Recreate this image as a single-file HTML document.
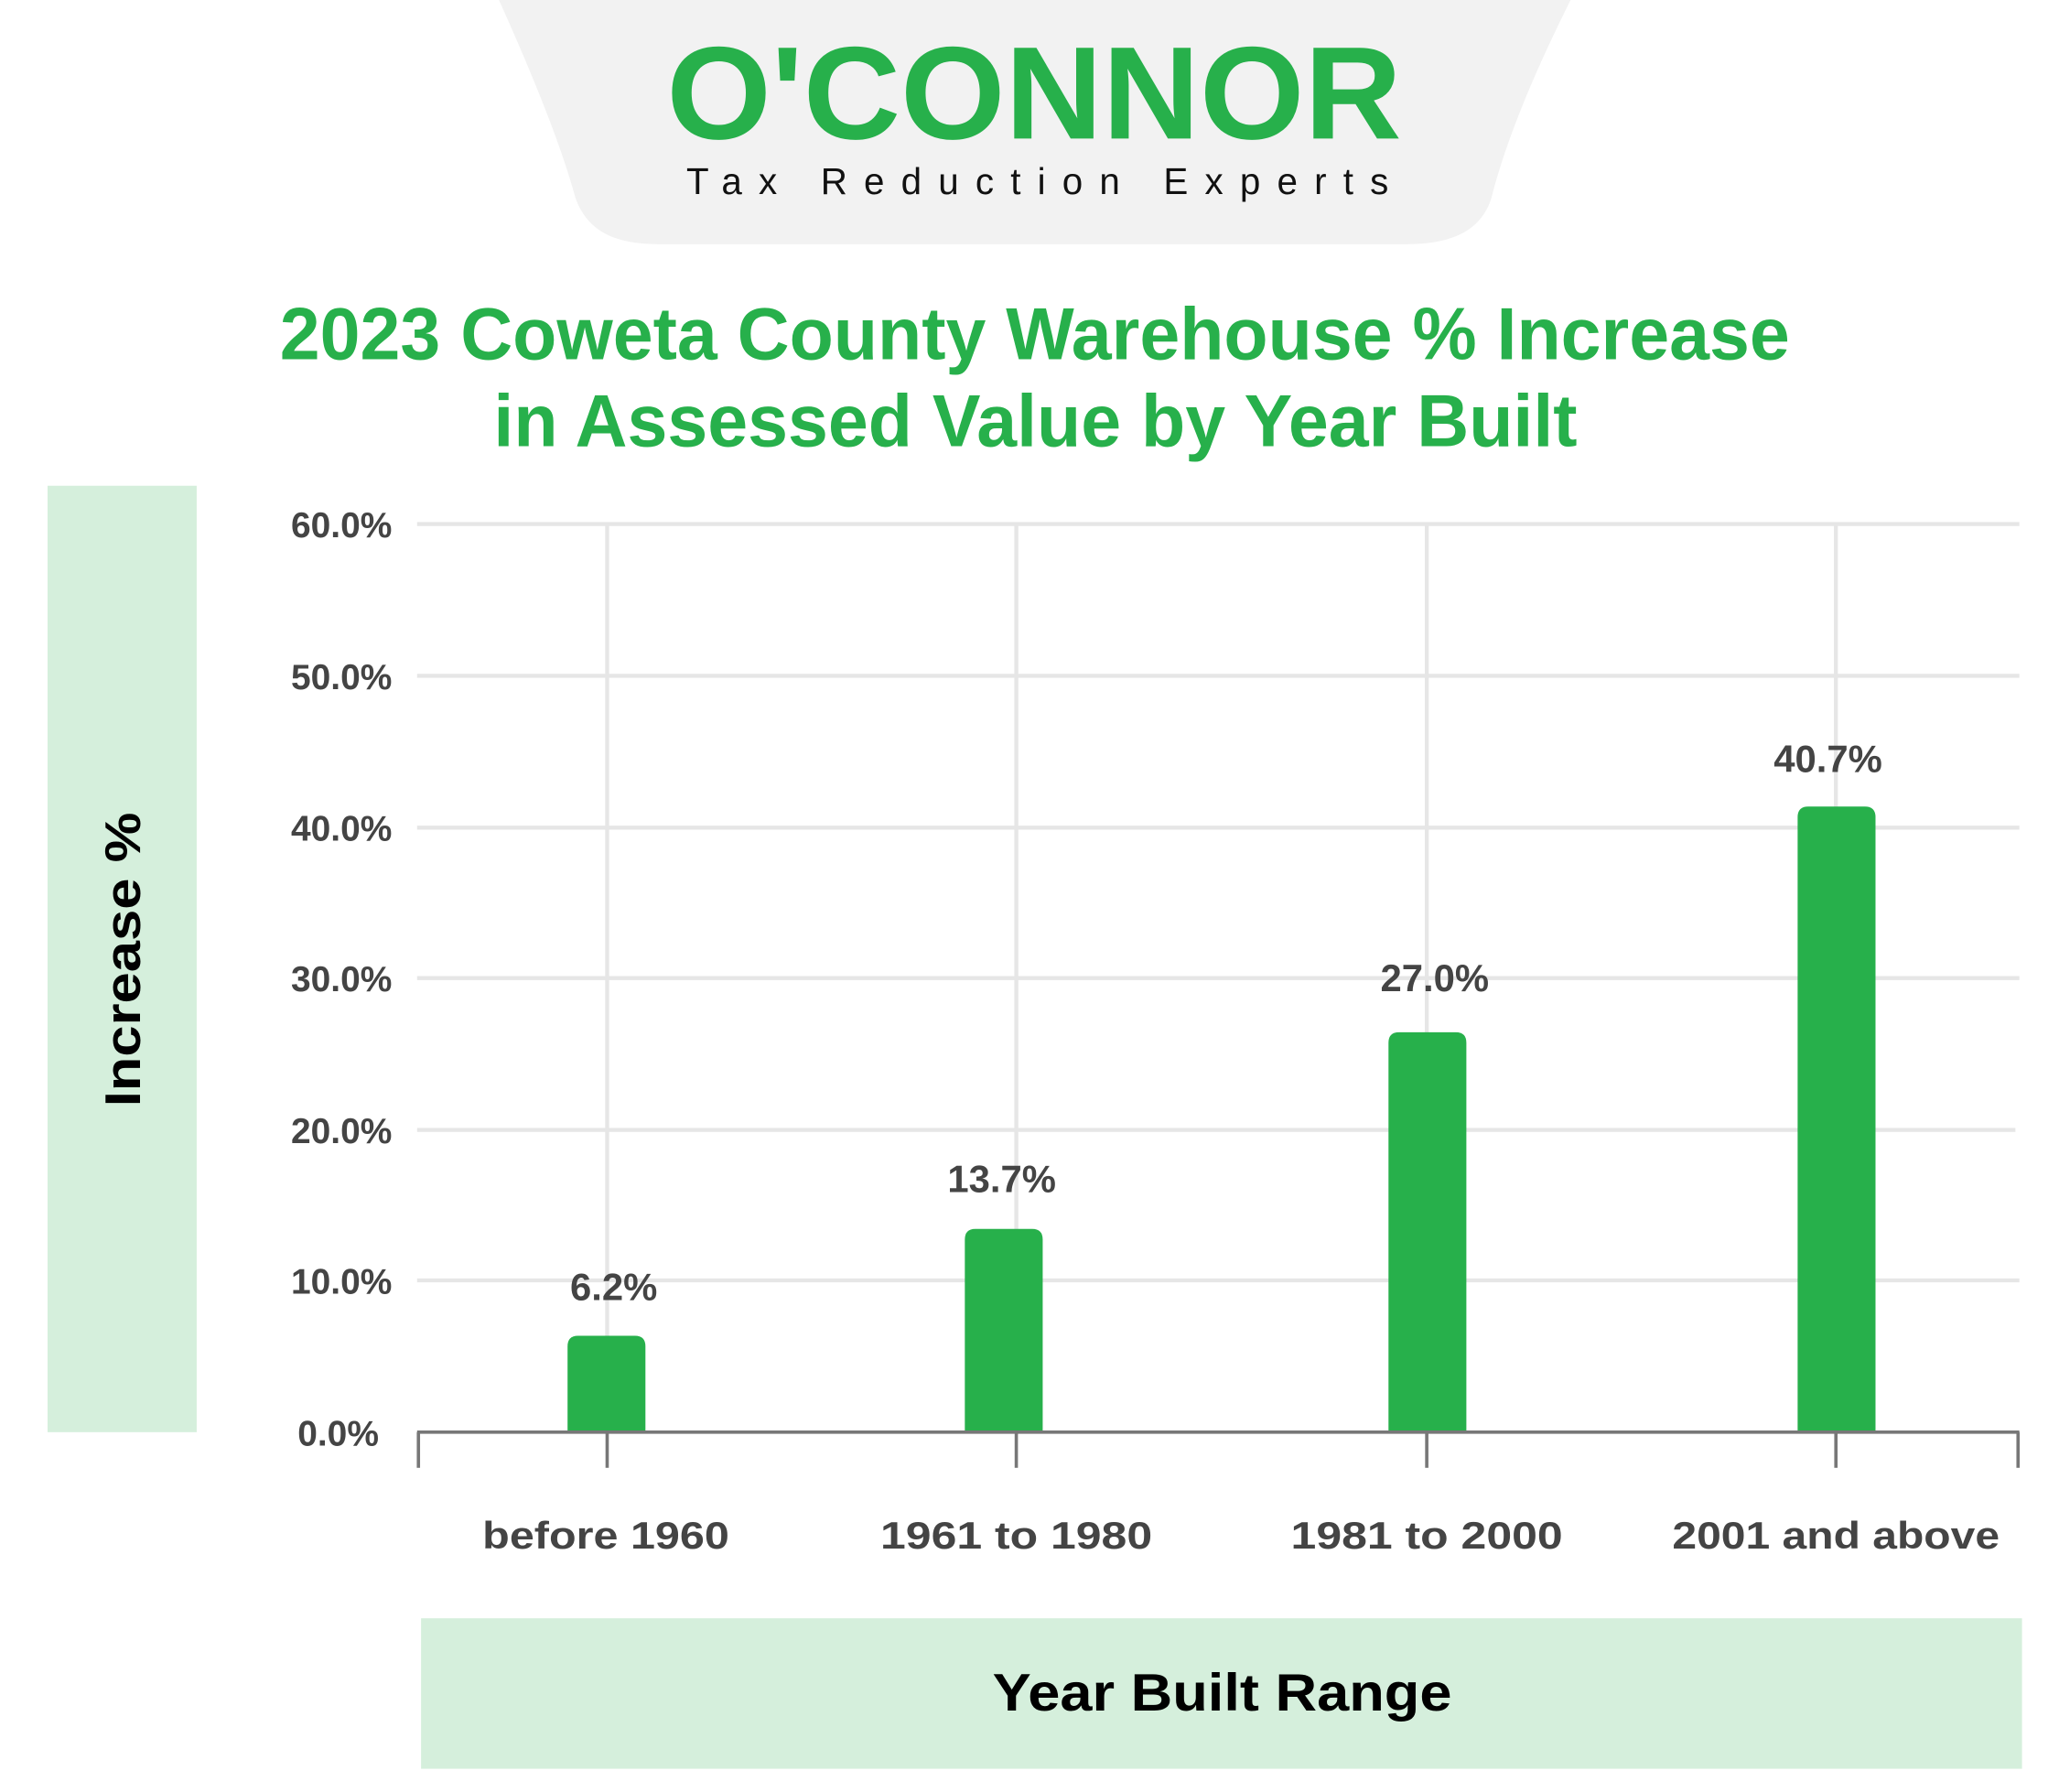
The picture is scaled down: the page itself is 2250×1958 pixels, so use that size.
<!DOCTYPE html>
<html><head><meta charset="utf-8"><style>
html,body{margin:0;padding:0;background:#fff;}
svg{display:block;}
text{font-family:"Liberation Sans",sans-serif;}
</style></head><body>
<svg width="2250" height="1958" viewBox="0 0 1560 1357.6" xmlns="http://www.w3.org/2000/svg">
<rect width="1560" height="1357.6" fill="#fff"/>
<path d="M378,0 C405,60 425,110 436,150 C445,175 465,185 500,185 L1065,185 C1100,185 1122,175 1130,150 C1140,110 1160,60 1190,0 Z" fill="#f2f2f2"/>
<text x="505" y="105" font-size="100" font-weight="bold" fill="#27b04b" textLength="557" lengthAdjust="spacingAndGlyphs">O'CONNOR</text>
<text x="520" y="147" font-size="28" fill="#111" textLength="532" lengthAdjust="spacing">Tax Reduction Experts</text>
<text x="212" y="272" font-size="56" font-weight="bold" fill="#27b04b" textLength="1144" lengthAdjust="spacingAndGlyphs">2023 Coweta County Warehouse % Increase</text>
<text x="374" y="338" font-size="56" font-weight="bold" fill="#27b04b" textLength="821" lengthAdjust="spacingAndGlyphs">in Assessed Value by Year Built</text>
<rect x="36" y="368" width="113" height="717" fill="#d5efdc"/>
<text transform="translate(106,727) rotate(-90)" text-anchor="middle" font-size="38" font-weight="bold" fill="#000" textLength="223" lengthAdjust="spacingAndGlyphs">Increase %</text>
<g stroke="#e6e6e6" stroke-width="3">
<line x1="316" y1="397" x2="1530" y2="397"/>
<line x1="316" y1="512" x2="1530" y2="512"/>
<line x1="316" y1="627" x2="1530" y2="627"/>
<line x1="316" y1="741" x2="1530" y2="741"/>
<line x1="316" y1="856" x2="1527" y2="856"/>
<line x1="316" y1="970" x2="1530" y2="970"/>
<line x1="460" y1="397" x2="460" y2="1085"/>
<line x1="770" y1="397" x2="770" y2="1085"/>
<line x1="1081" y1="397" x2="1081" y2="1085"/>
<line x1="1391" y1="397" x2="1391" y2="1085"/>
</g>
<g fill="#444" font-size="27" font-weight="bold" text-anchor="end">
<text x="297" y="407">60.0%</text>
<text x="297" y="522">50.0%</text>
<text x="297" y="637">40.0%</text>
<text x="297" y="751">30.0%</text>
<text x="297" y="866">20.0%</text>
<text x="297" y="980">10.0%</text>
<text x="287" y="1095">0.0%</text>
</g>
<g fill="#27b04b">
<path d="M430,1085 V1020 Q430,1012 438,1012 H481 Q489,1012 489,1020 V1085 Z"/>
<path d="M731,1085 V939 Q731,931 739,931 H782 Q790,931 790,939 V1085 Z"/>
<path d="M1052,1085 V790 Q1052,782 1060,782 H1103 Q1111,782 1111,790 V1085 Z"/>
<path d="M1362,1085 V619 Q1362,611 1370,611 H1413 Q1421,611 1421,619 V1085 Z"/>
</g>
<g stroke="#777" stroke-width="2.5">
<line x1="316" y1="1085" x2="1530" y2="1085"/>
<line x1="317" y1="1085" x2="317" y2="1112"/>
<line x1="460" y1="1085" x2="460" y2="1112"/>
<line x1="770" y1="1085" x2="770" y2="1112"/>
<line x1="1081" y1="1085" x2="1081" y2="1112"/>
<line x1="1391" y1="1085" x2="1391" y2="1112"/>
<line x1="1529" y1="1085" x2="1529" y2="1112"/>
</g>
<g fill="#444" font-size="29" font-weight="bold" text-anchor="middle">
<text x="465" y="985">6.2%</text>
<text x="759" y="903">13.7%</text>
<text x="1087" y="751">27.0%</text>
<text x="1385" y="585">40.7%</text>
<text x="459" y="1173" textLength="187" lengthAdjust="spacingAndGlyphs">before 1960</text>
<text x="770" y="1173" textLength="206" lengthAdjust="spacingAndGlyphs">1961 to 1980</text>
<text x="1081" y="1173" textLength="206" lengthAdjust="spacingAndGlyphs">1981 to 2000</text>
<text x="1391" y="1173" textLength="248" lengthAdjust="spacingAndGlyphs">2001 and above</text>
</g>
<rect x="319" y="1226" width="1213" height="114" fill="#d5efdc"/>
<text x="926" y="1296" text-anchor="middle" font-size="40" font-weight="bold" fill="#000" textLength="348" lengthAdjust="spacingAndGlyphs">Year Built Range</text>
</svg>
</body></html>
